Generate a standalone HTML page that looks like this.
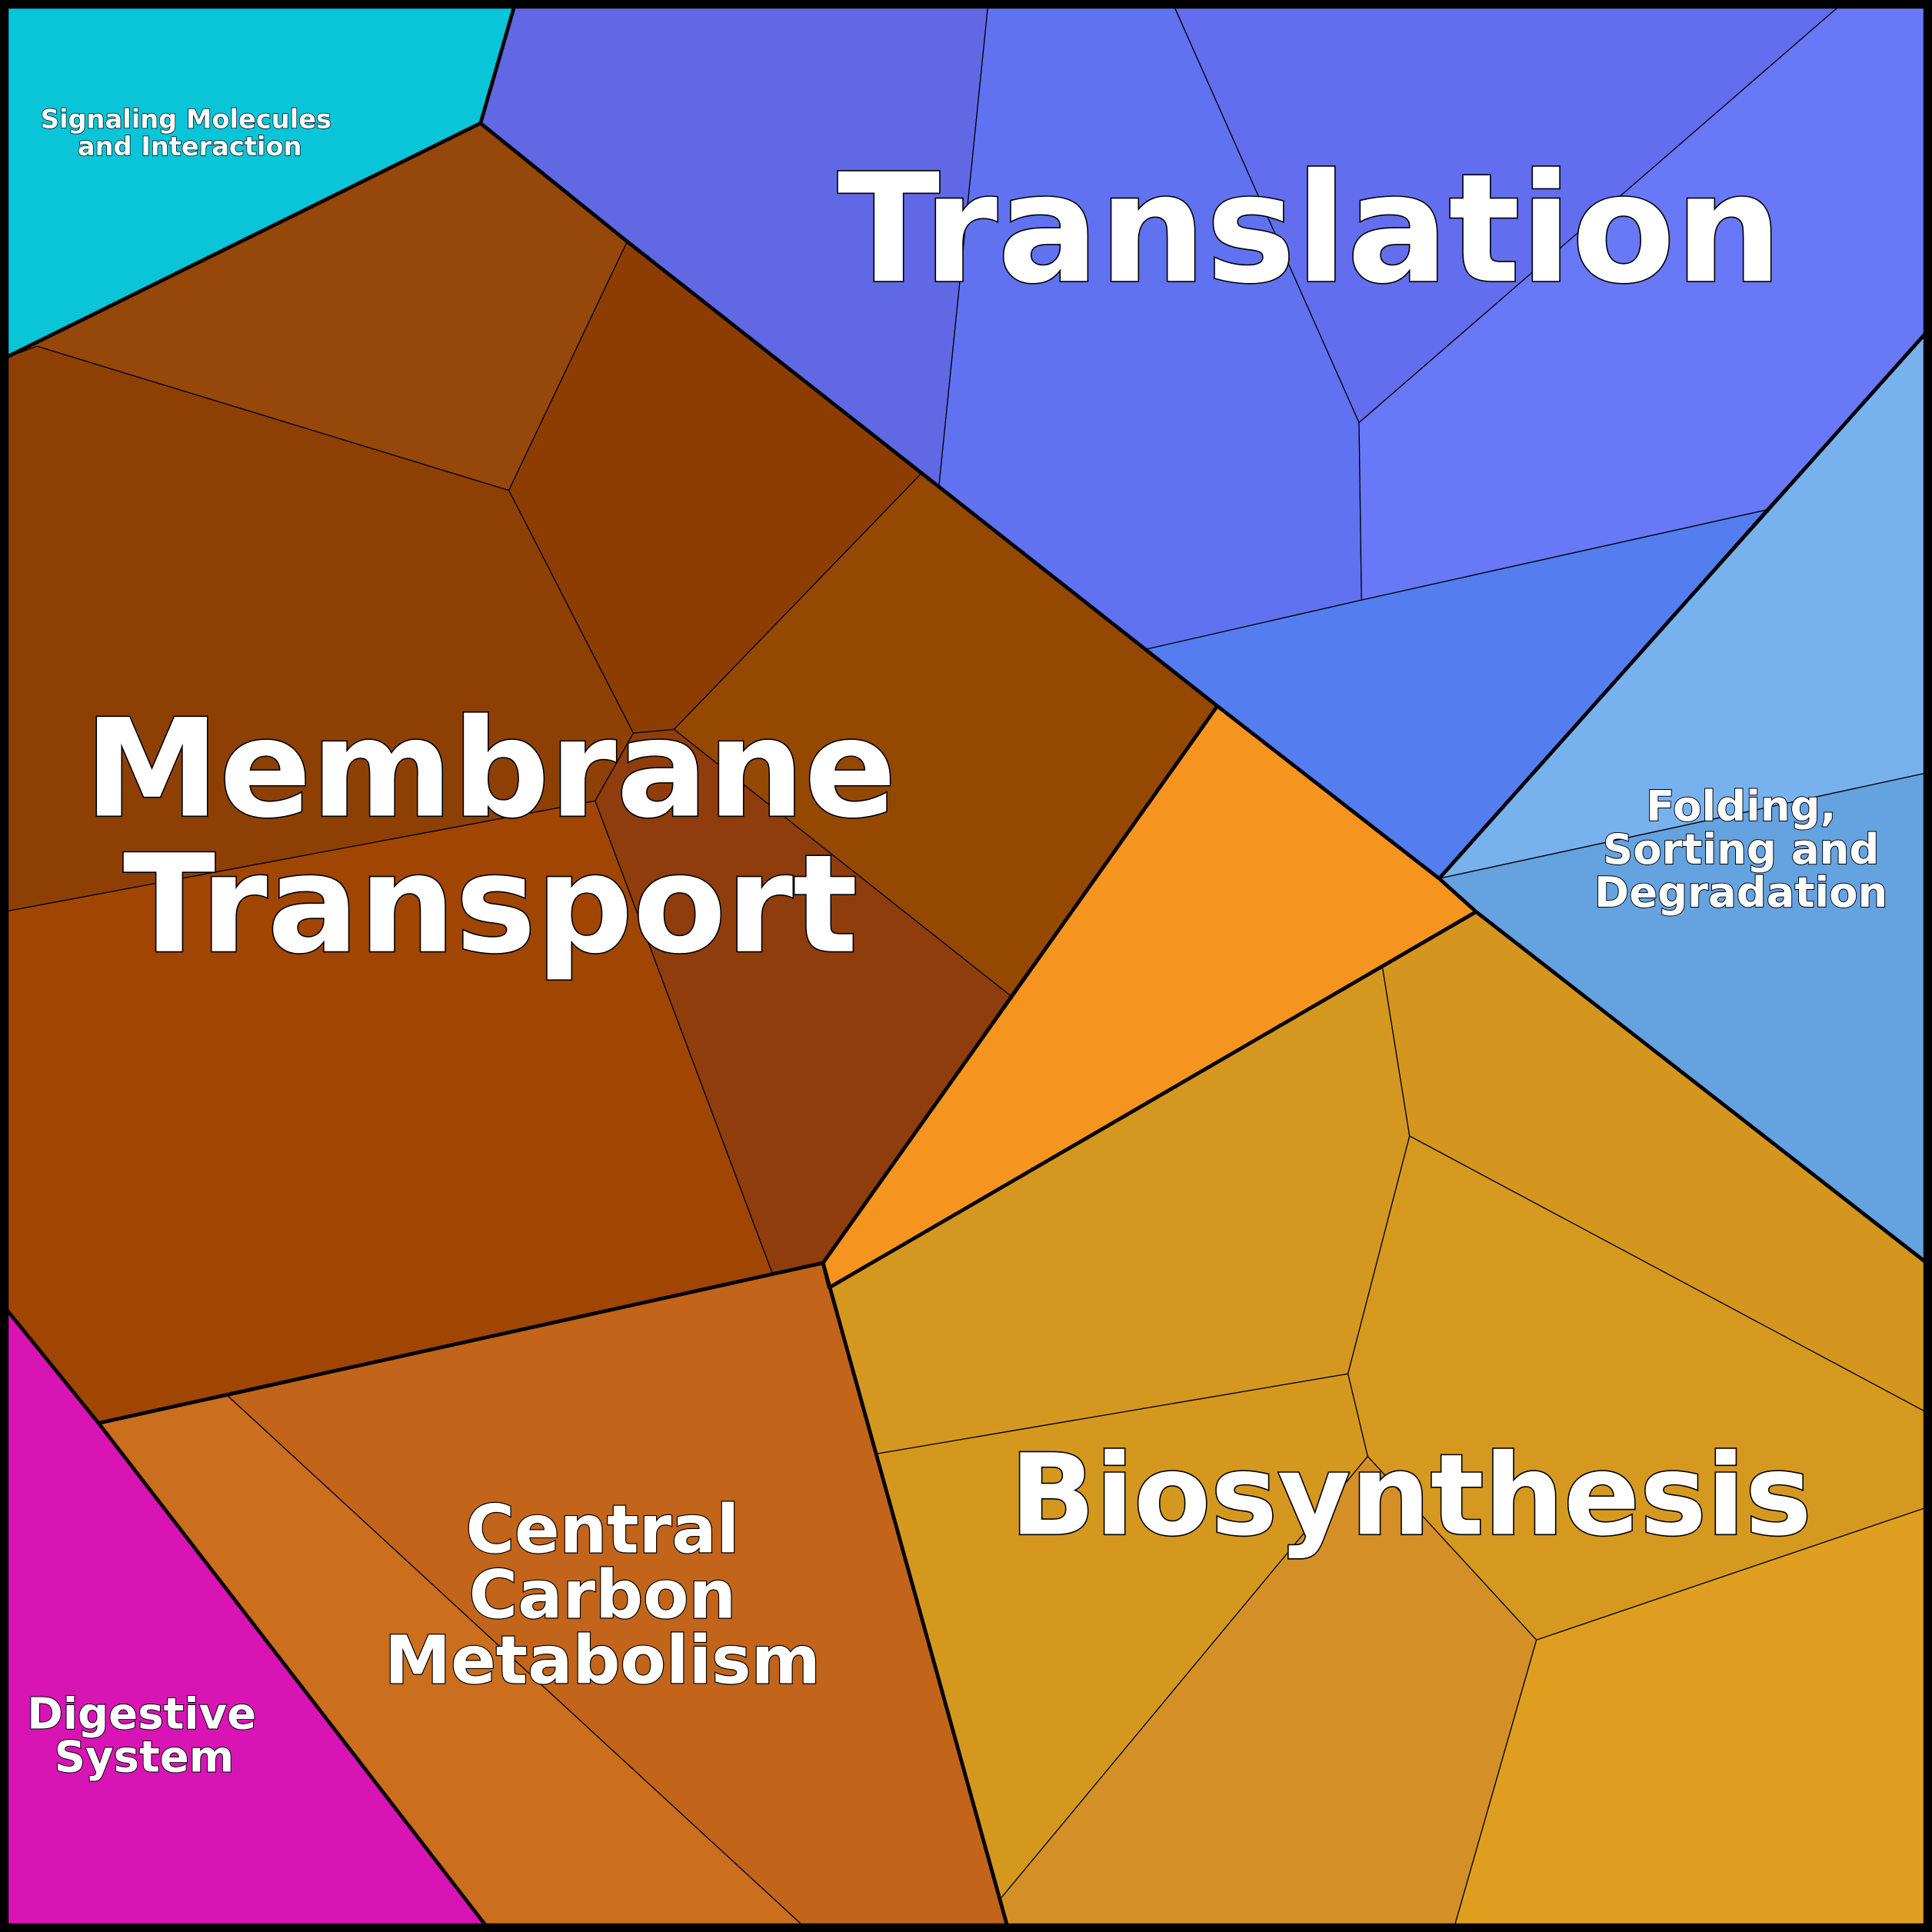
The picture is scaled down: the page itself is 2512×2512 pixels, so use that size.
<!DOCTYPE html>
<html><head><meta charset="utf-8"><style>
html,body{margin:0;padding:0;background:#fff}
svg{display:block}
text{font-family:"DejaVu Sans","Liberation Sans",sans-serif;font-weight:bold;fill:#fff;stroke:#000;paint-order:stroke;text-anchor:middle}
</style></head><body>
<svg width="2512" height="2512" viewBox="0 0 1568 1568" xmlns="http://www.w3.org/2000/svg">
<g stroke="#000" stroke-width="0.8" stroke-linejoin="round">
<polygon fill="#0ac4d8" points="3,3 418,3 390,100 3,291"/>
<polygon fill="#6068e4" points="418,3 802,3 762,395 748,384 509,196 390,100"/>
<polygon fill="#6072f0" points="802,3 952,3 1103,343 1105,487 930,527 762,395"/>
<polygon fill="#626eee" points="952,3 1495,3 1103,343"/>
<polygon fill="#6878f6" points="1495,3 1565,3 1565,268 1433,414 1105,487 1103,343"/>
<polygon fill="#547ef0" points="930,527 1105,487 1433,414 1168,713 988,573"/>
<polygon fill="#78b2ee" points="1168,713 1565,268 1565,627"/>
<polygon fill="#64a2e0" points="1168,713 1565,627 1565,1026 1198,740"/>
<polygon fill="#96470a" points="3,291 390,100 509,196 413,398 30,281"/>
<polygon fill="#8e3d02" points="509,196 748,384 547,592 514,595 413,398"/>
<polygon fill="#8e4004" points="3,291 30,281 413,398 514,595 483,650 3,740"/>
<polygon fill="#954802" points="748,384 988,573 820,808 547,592"/>
<polygon fill="#8f3d0c" points="514,595 547,592 820,808 668,1025 627,1034 483,650"/>
<polygon fill="#a04502" points="3,740 483,650 627,1034 80,1155 3,1060"/>
<polygon fill="#f5951f" points="988,573 1168,713 1198,740 673,1045 668,1025"/>
<polygon fill="#d814b4" points="3,1060 80,1155 396,1565 3,1565"/>
<polygon fill="#cb6e1e" points="80,1155 185,1133 654,1565 396,1565"/>
<polygon fill="#c2641a" points="185,1133 668,1025 818,1565 654,1565"/>
<polygon fill="#d49720" points="673,1045 1122,785 1144,922 1094,1115 711,1180 668,1025"/>
<polygon fill="#d4961e" points="1122,785 1198,740 1565,1026 1565,1147 1144,922"/>
<polygon fill="#d6991f" points="1144,922 1565,1147 1565,1223 1247,1331 1110,1182 1094,1115"/>
<polygon fill="#d4981e" points="711,1180 1094,1115 1110,1182 812,1541"/>
<polygon fill="#d49026" points="1110,1182 1247,1331 1180,1565 818,1565 812,1541"/>
<polygon fill="#e09e20" points="1247,1331 1565,1223 1565,1565 1180,1565"/>
</g>
<g stroke="#000" fill="none" stroke-linejoin="round" stroke-width="3">
<polyline points="418,3 390,100 509,196 748,384 988,573 1168,713 1198,740 1565,1026"/>
<polyline points="3,291 390,100"/>
<polyline points="1168,713 1565,268"/>
<polyline points="988,573 668,1025 80,1155 3,1060"/>
<polyline points="80,1155 396,1565"/>
<polyline points="668,1025 818,1565"/>
<polyline points="1198,740 673,1045 668,1025"/>
</g>
<rect x="3.5" y="3.5" width="1561" height="1561" fill="none" stroke="#000" stroke-width="7"/>
<text x="1063" y="228" font-size="122" stroke-width="2">Translation</text>
<text x="398" y="662" font-size="110" stroke-width="2">Membrane</text>
<text x="398" y="772" font-size="110" stroke-width="2">Transport</text>
<text x="1145" y="1245" font-size="91" stroke-width="2">Biosynthesis</text>
<text x="489" y="1260" font-size="54" stroke-width="1.5">Central</text>
<text x="489" y="1313" font-size="54" stroke-width="1.5">Carbon</text>
<text x="489" y="1366" font-size="54" stroke-width="1.5">Metabolism</text>
<text x="115" y="1403" font-size="35" stroke-width="1.2">Digestive</text>
<text x="117" y="1438" font-size="35" stroke-width="1.2">System</text>
<text x="1413" y="666" font-size="34" stroke-width="1.2">Folding,</text>
<text x="1413" y="701" font-size="34" stroke-width="1.2">Sorting and</text>
<text x="1413" y="736" font-size="34" stroke-width="1.2">Degradation</text>
<text x="151" y="104" font-size="21" stroke-width="0.9">Signaling Molecules</text>
<text x="154" y="126" font-size="21" stroke-width="0.9">and Interaction</text>
</svg>
</body></html>
